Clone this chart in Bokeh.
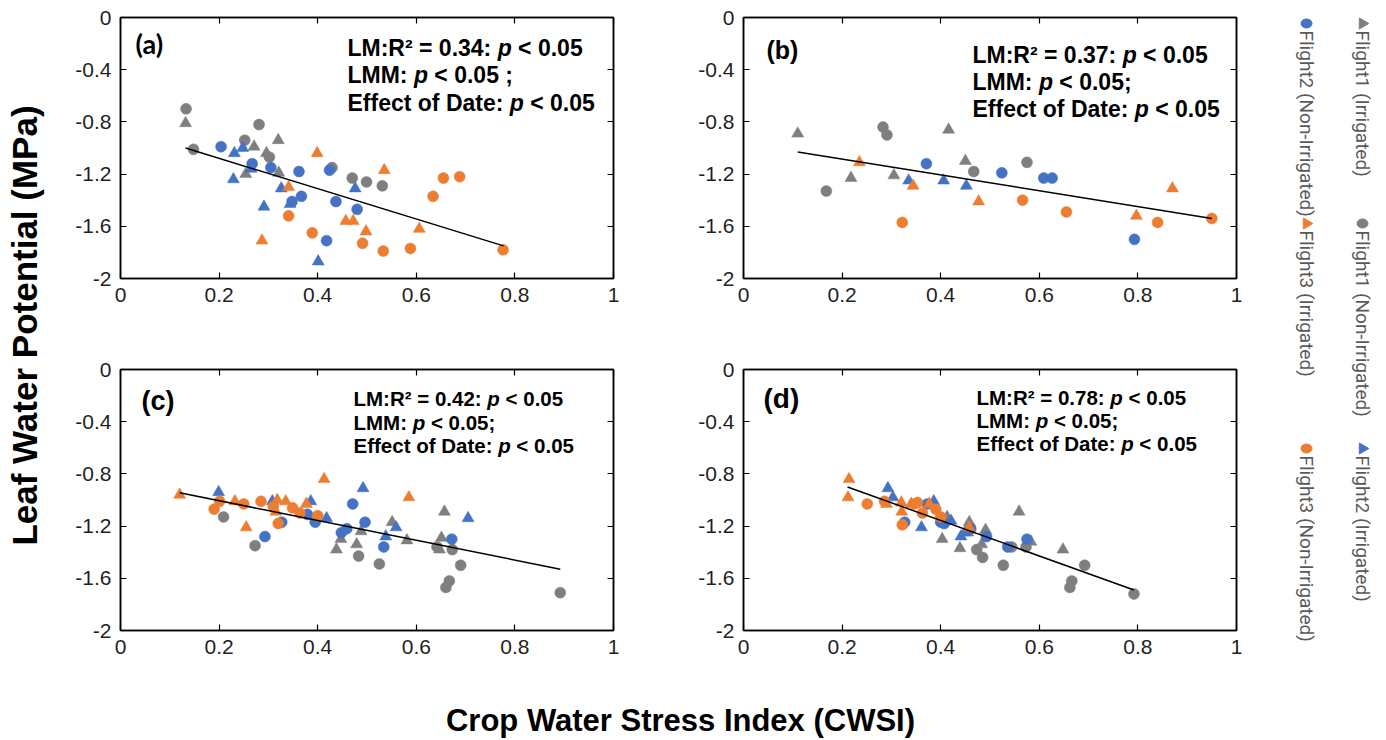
import math
from bokeh.plotting import figure
from bokeh.layouts import row, column
from bokeh.models import Range1d, FixedTicker, LinearAxis, Label, CustomJSTickFormatter
from bokeh.core.properties import value
from bokeh.embed import file_html
from bokeh.resources import INLINE

# ---------------- data ----------------
X_TICKS = [0, 0.2, 0.4, 0.6, 0.8, 1]
X_TICK_LABELS = ["0", "0.2", "0.4", "0.6", "0.8", "1"]
Y_TICKS = [-2, -1.6, -1.2, -0.8, -0.4, 0]
Y_TICK_LABELS = ["-2", "-1.6", "-1.2", "-0.8", "-0.4", "0"]

SERIES_NAMES = ["Flight1 (Irrigated)", "Flight1 (Non-Irrigated)", "Flight2 (Irrigated)",
                "Flight2 (Non-Irrigated)", "Flight3 (Irrigated)", "Flight3 (Non-Irrigated)"]

# Panel (a)
A_F1I_X = [0.132, 0.271, 0.320, 0.296, 0.254, 0.321]
A_F1I_Y = [-0.81, -0.99, -0.94, -1.04, -1.20, -1.19]
A_F1N_X = [0.133, 0.148, 0.281, 0.252, 0.302, 0.429, 0.470, 0.499, 0.531]
A_F1N_Y = [-0.70, -1.01, -0.82, -0.94, -1.07, -1.15, -1.23, -1.26, -1.29]
A_F2I_X = [0.231, 0.248, 0.265, 0.229, 0.291, 0.326, 0.344, 0.476, 0.401]
A_F2I_Y = [-1.04, -1.00, -1.16, -1.24, -1.45, -1.31, -1.43, -1.31, -1.87]
A_F2N_X = [0.204, 0.267, 0.305, 0.362, 0.424, 0.367, 0.348, 0.437, 0.480, 0.418]
A_F2N_Y = [-0.99, -1.12, -1.15, -1.18, -1.17, -1.37, -1.41, -1.41, -1.47, -1.71]
A_F3I_X = [0.399, 0.341, 0.535, 0.457, 0.472, 0.498, 0.606, 0.287]
A_F3I_Y = [-1.04, -1.30, -1.17, -1.56, -1.56, -1.64, -1.62, -1.71]
A_F3N_X = [0.341, 0.389, 0.491, 0.533, 0.588, 0.634, 0.655, 0.688, 0.776]
A_F3N_Y = [-1.52, -1.65, -1.73, -1.79, -1.77, -1.37, -1.23, -1.22, -1.78]
A_FIT_X = [0.132, 0.777]
A_FIT_Y = [-1.00, -1.75]

# Panel (b)
B_F1I_X = [0.110, 0.218, 0.305, 0.416, 0.450]
B_F1I_Y = [-0.89, -1.23, -1.21, -0.86, -1.10]
B_F1N_X = [0.168, 0.283, 0.291, 0.467, 0.575]
B_F1N_Y = [-1.33, -0.84, -0.90, -1.18, -1.11]
B_F2I_X = [0.335, 0.406, 0.452]
B_F2I_Y = [-1.25, -1.25, -1.29]
B_F2N_X = [0.371, 0.524, 0.609, 0.626, 0.793]
B_F2N_Y = [-1.12, -1.19, -1.23, -1.23, -1.70]
B_F3I_X = [0.235, 0.344, 0.477, 0.797, 0.870]
B_F3I_Y = [-1.11, -1.29, -1.41, -1.52, -1.31]
B_F3N_X = [0.322, 0.566, 0.655, 0.840, 0.950]
B_F3N_Y = [-1.57, -1.40, -1.49, -1.57, -1.54]
B_FIT_X = [0.110, 0.950]
B_FIT_Y = [-1.03, -1.54]

# Panel (c)
C_F1I_X = [0.438, 0.447, 0.479, 0.488, 0.551, 0.581, 0.651, 0.647, 0.657]
C_F1I_Y = [-1.38, -1.30, -1.34, -1.24, -1.17, -1.31, -1.29, -1.38, -1.09]
C_F1N_X = [0.209, 0.273, 0.483, 0.525, 0.642, 0.673, 0.690, 0.667, 0.660, 0.892]
C_F1N_Y = [-1.13, -1.35, -1.43, -1.49, -1.36, -1.38, -1.50, -1.62, -1.67, -1.71]
C_F2I_X = [0.199, 0.308, 0.386, 0.418, 0.492, 0.559, 0.538, 0.705]
C_F2I_Y = [-0.94, -1.01, -1.01, -1.14, -0.91, -1.21, -1.28, -1.14]
C_F2N_X = [0.293, 0.327, 0.395, 0.448, 0.459, 0.471, 0.496, 0.534, 0.672, 0.379]
C_F2N_Y = [-1.28, -1.17, -1.17, -1.25, -1.22, -1.03, -1.17, -1.36, -1.30, -1.11]
C_F3I_X = [0.120, 0.232, 0.255, 0.318, 0.335, 0.315, 0.377, 0.413, 0.585]
C_F3I_Y = [-0.96, -1.01, -1.21, -1.00, -1.01, -1.09, -1.03, -0.84, -0.98]
C_F3N_X = [0.190, 0.201, 0.250, 0.285, 0.310, 0.320, 0.349, 0.364, 0.400]
C_F3N_Y = [-1.07, -1.01, -1.03, -1.01, -1.05, -1.18, -1.06, -1.10, -1.12]
C_FIT_X = [0.120, 0.892]
C_FIT_Y = [-0.945, -1.53]

# Panel (d)
D_F1I_X = [0.403, 0.439, 0.458, 0.455, 0.483, 0.491, 0.559, 0.583, 0.648, 0.413]
D_F1I_Y = [-1.30, -1.37, -1.17, -1.25, -1.34, -1.23, -1.09, -1.32, -1.38, -1.13]
D_F1N_X = [0.473, 0.485, 0.527, 0.544, 0.573, 0.692, 0.666, 0.662, 0.792]
D_F1N_Y = [-1.38, -1.44, -1.50, -1.36, -1.36, -1.50, -1.62, -1.67, -1.72]
D_F2I_X = [0.293, 0.303, 0.386, 0.361, 0.421, 0.441, 0.449]
D_F2I_Y = [-0.91, -0.98, -1.01, -1.21, -1.16, -1.28, -1.25]
D_F2N_X = [0.327, 0.373, 0.400, 0.407, 0.461, 0.493, 0.536, 0.575]
D_F2N_Y = [-1.17, -1.03, -1.17, -1.18, -1.22, -1.28, -1.36, -1.30]
D_F3I_X = [0.214, 0.212, 0.290, 0.320, 0.321, 0.340, 0.377, 0.458]
D_F3I_Y = [-0.84, -0.98, -1.03, -1.02, -1.09, -1.03, -1.03, -1.21]
D_F3N_X = [0.251, 0.286, 0.322, 0.346, 0.353, 0.363, 0.390, 0.400]
D_F3N_Y = [-1.03, -1.01, -1.19, -1.03, -1.02, -1.10, -1.07, -1.13]
D_FIT_X = [0.211, 0.792]
D_FIT_Y = [-0.90, -1.69]

STATS_A = [[("LM:R\u00b2 = 0.34: ", False), ("p", True), (" < 0.05", False)],
           [("LMM: ", False), ("p", True), (" < 0.05 ;", False)],
           [("Effect of Date: ", False), ("p", True), (" < 0.05", False)]]
STATS_B = [[("LM:R\u00b2 = 0.37: ", False), ("p", True), (" < 0.05", False)],
           [("LMM: ", False), ("p", True), (" < 0.05;", False)],
           [("Effect of Date: ", False), ("p", True), (" < 0.05", False)]]
STATS_C = [[("LM:R\u00b2 = 0.42: ", False), ("p", True), (" < 0.05", False)],
           [("LMM: ", False), ("p", True), (" < 0.05;", False)],
           [("Effect of Date: ", False), ("p", True), (" < 0.05", False)]]
STATS_D = [[("LM:R\u00b2 = 0.78: ", False), ("p", True), (" < 0.05", False)],
           [("LMM: ", False), ("p", True), (" < 0.05;", False)],
           [("Effect of Date: ", False), ("p", True), (" < 0.05", False)]]

# ---------------- style ----------------
GRAY = "#7F7F7F"
BLUE = "#4472C4"
ORANGE = "#ED7D31"
COLORS = [GRAY, GRAY, BLUE, BLUE, ORANGE, ORANGE]
MARKERS = ["triangle", "circle", "triangle", "circle", "triangle", "circle"]
ARIAL = "Liberation Sans"
TICK_COLOR = "#1f1f1f"
FRAME_W = 493
FRAME_H = 261
YLAB_W = 52

ARIAL_BOLD_W = {' ': .278, ':': .333, ';': .333, '=': .584, '<': .584, '.': .278, '\u00b2': .333,
                'L': .611, 'M': .833, 'R': .722, 'E': .667, 'D': .722, 'f': .333, 'e': .556,
                'c': .556, 't': .333, 'o': .611, 'a': .556, 'p': .611}


def text_w(s, size):
    return sum(ARIAL_BOLD_W.get(ch, .556) for ch in s) * size


def px_to_data(rx, ry):
    return rx / FRAME_W, -ry / (FRAME_H / 2.0)


def make_panel(series, fit_x, fit_y, tag, tag_pos, tag_font, tag_size, stats, stats_pos, stats_size,
               stats_step, left, right, top, bottom):
    p = figure(width=left + FRAME_W + right, height=top + FRAME_H + bottom,
               x_range=Range1d(0, 1), y_range=Range1d(-2, 0),
               output_backend="svg", toolbar_location=None,
               min_border_left=left, min_border_right=right,
               min_border_top=top, min_border_bottom=bottom)
    p.xgrid.visible = False
    p.ygrid.visible = False
    p.outline_line_color = "black"
    p.outline_line_width = 1.5
    p.outline_line_alpha = 1.0
    p.background_fill_color = "white"
    p.border_fill_color = "white"

    for ax, ticks, labels in ((p.xaxis[0], X_TICKS, X_TICK_LABELS), (p.yaxis[0], Y_TICKS, Y_TICK_LABELS)):
        ax.ticker = FixedTicker(ticks=ticks)
        ax.major_label_overrides = dict(zip(ticks, labels))
        ax.major_tick_in = 6
        ax.major_tick_out = 0
        ax.major_tick_line_color = "black"
        ax.major_tick_line_width = 1.2
        ax.minor_tick_line_color = None
        ax.axis_line_color = "black"
        ax.axis_line_width = 1.5
        ax.major_label_text_font = ARIAL
        ax.major_label_text_font_size = "21px"
        ax.major_label_text_color = TICK_COLOR
        ax.major_label_standoff = 9

    for loc, ticks in (("above", X_TICKS), ("right", Y_TICKS)):
        ax = LinearAxis(ticker=FixedTicker(ticks=ticks),
                        formatter=CustomJSTickFormatter(code="return ''"),
                        major_tick_in=6, major_tick_out=0, major_tick_line_width=1.2,
                        minor_tick_line_color=None, axis_line_color="black", axis_line_width=1.5,
                        major_label_standoff=0, major_label_text_font_size="1px")
        p.add_layout(ax, loc)

    for (xs, ys), color, marker, name in zip(series, COLORS, MARKERS, SERIES_NAMES):
        p.scatter(xs, ys, marker=marker, size=12 if marker == "triangle" else 11,
                  fill_color=color, line_color=color, line_width=0.5)

    p.line(fit_x, fit_y, line_color="black", line_width=1.5)

    tx, ty = px_to_data(*tag_pos)
    p.add_layout(Label(x=tx, y=ty, text=tag, text_font=tag_font, text_font_size=f"{tag_size}px",
                       text_font_style="bold", text_baseline="middle", text_align="left",
                       text_color="black"))

    for i, line in enumerate(stats):
        sx, sy = px_to_data(stats_pos[0], stats_pos[1] + i * stats_step)
        off = 0.0
        for seg, ital in line:
            lead = len(seg) - len(seg.lstrip(" "))
            p.add_layout(Label(x=sx, y=sy, x_offset=off + text_w(seg[:lead], stats_size),
                               text=seg.strip(), text_font=ARIAL,
                               text_font_size=f"{stats_size}px",
                               text_font_style="bold italic" if ital else "bold",
                               text_baseline="middle", text_align="left", text_color="black"))
            off += text_w(seg, stats_size)
    return p


pa = make_panel([(A_F1I_X, A_F1I_Y), (A_F1N_X, A_F1N_Y), (A_F2I_X, A_F2I_Y), (A_F2N_X, A_F2N_Y),
                 (A_F3I_X, A_F3I_Y), (A_F3N_X, A_F3N_Y)], A_FIT_X, A_FIT_Y,
                "(a)", (15, 26), "Lato", 27, STATS_A, (227, 30), 23, 27.5,
                left=120 - YLAB_W, right=70, top=17, bottom=55)
pb = make_panel([(B_F1I_X, B_F1I_Y), (B_F1N_X, B_F1N_Y), (B_F2I_X, B_F2I_Y), (B_F2N_X, B_F2N_Y),
                 (B_F3I_X, B_F3I_Y), (B_F3N_X, B_F3N_Y)], B_FIT_X, B_FIT_Y,
                "(b)", (23, 32), ARIAL, 25, STATS_B, (229, 37), 23, 27,
                left=60, right=54, top=17, bottom=55)
pc = make_panel([(C_F1I_X, C_F1I_Y), (C_F1N_X, C_F1N_Y), (C_F2I_X, C_F2I_Y), (C_F2N_X, C_F2N_Y),
                 (C_F3I_X, C_F3I_Y), (C_F3N_X, C_F3N_Y)], C_FIT_X, C_FIT_Y,
                "(c)", (21, 31), ARIAL, 27, STATS_C, (233, 29), 20.5, 23.5,
                left=120 - YLAB_W, right=70, top=36, bottom=50)
pd = make_panel([(D_F1I_X, D_F1I_Y), (D_F1N_X, D_F1N_Y), (D_F2I_X, D_F2I_Y), (D_F2N_X, D_F2N_Y),
                 (D_F3I_X, D_F3I_Y), (D_F3N_X, D_F3N_Y)], D_FIT_X, D_FIT_Y,
                "(d)", (20, 29), ARIAL, 28, STATS_D, (233, 28), 20.5, 23,
                left=60, right=54, top=36, bottom=50)

GRID_H = 333 + 347


def blank_fig(w, h, xr, yr):
    f = figure(width=w, height=h, x_range=Range1d(*xr), y_range=Range1d(*yr),
               output_backend="svg", toolbar_location=None,
               min_border=0, min_border_left=0, min_border_right=0, min_border_top=0, min_border_bottom=0)
    f.axis.visible = False
    f.xgrid.visible = False
    f.ygrid.visible = False
    f.outline_line_color = None
    f.background_fill_color = "white"
    f.border_fill_color = "white"
    return f


# y-axis title (coordinates = page pixels, y measured upward from grid bottom)
ylab = blank_fig(YLAB_W, GRID_H, (0, YLAB_W), (0, GRID_H))
ylab.text(x=[24], y=[GRID_H - 325], text=["Leaf Water Potential (MPa)"], angle=math.pi / 2,
          text_font=value(ARIAL), text_font_style="bold", text_font_size="35px",
          text_align="center", text_baseline="middle", text_color="black")

# legend (rotated, page pixel coordinates)
LEG_X = [1362, 1362, 1362, 1306, 1306, 1306]
LEG_Y = [23, 223, 448, 23, 223, 448]
LEG_SERIES = [0, 1, 2, 3, 4, 5]
leg = blank_fig(96, GRID_H, (1290, 1386), (0, GRID_H))
for sx, sy, si in zip(LEG_X, LEG_Y, LEG_SERIES):
    color = COLORS[si]
    if MARKERS[si] == "triangle":
        leg.scatter([sx], [GRID_H - sy], marker="triangle", angle=-math.pi / 2, size=11,
                    fill_color=color, line_color=color)
    else:
        leg.ellipse([sx], [GRID_H - sy], width=11, height=9, width_units="screen",
                    height_units="screen", fill_color=color, line_color=color)
    leg.text(x=[sx], y=[GRID_H - sy - 7], text=[SERIES_NAMES[si]], angle=-math.pi / 2,
             text_font=value("Roboto"), text_font_size="19px",
             text_align="left", text_baseline="middle", text_color="#595959")

# x-axis title
xlab = blank_fig(1386, 60, (0, 1386), (0, 60))
xlab.text(x=[680], y=[20], text=["Crop Water Stress Index (CWSI)"],
          text_font=value(ARIAL), text_font_style="bold", text_font_size="31px",
          text_align="center", text_baseline="middle", text_color="black")

grid = column(row(pa, pb), row(pc, pd))
layout = column(row(ylab, grid, leg), xlab)

open("out.html", "w").write(file_html(layout, INLINE))
